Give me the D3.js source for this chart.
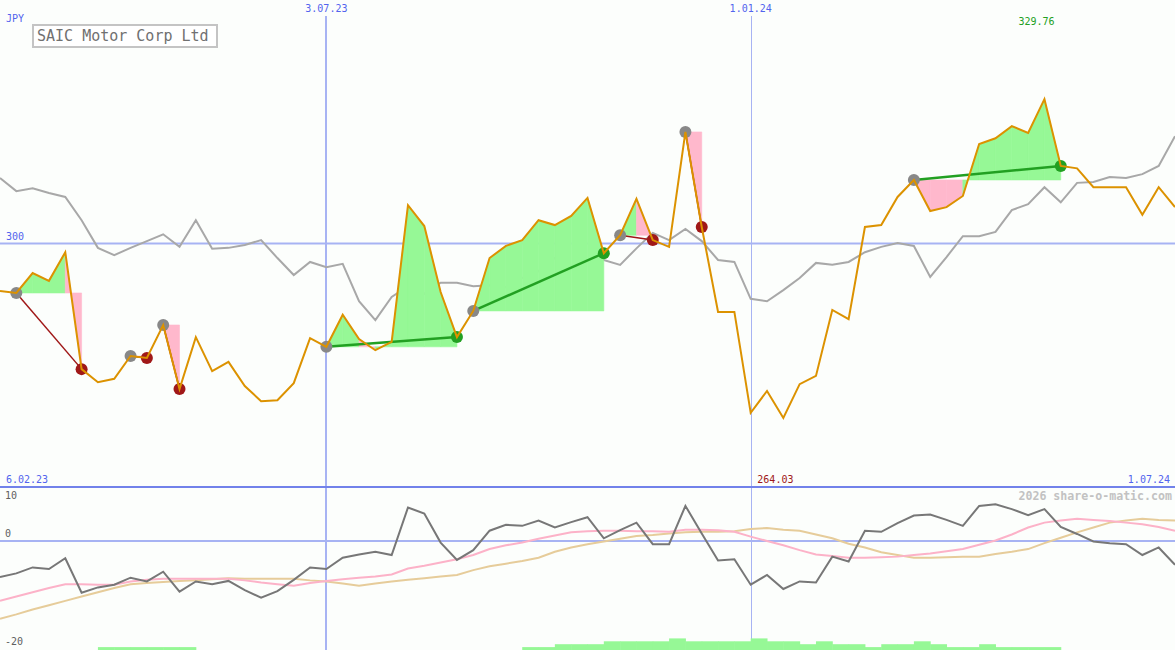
<!DOCTYPE html>
<html lang="en">
  <head>
    <meta charset="utf-8"/>
    <script src="https://d3js.org/d3.v7.min.js"></script>
    <style>
      body { margin: 0; background: #fcfefc; }
      svg { display: block; }
      text { font-family: "DejaVu Sans Mono", monospace; font-size: 10px; }
    </style>
  </head>
  <body>
    <svg id="chart" width="1175" height="650"></svg>
  </body>
  <script>
    // weekly closes (JPY) and comparison index, scaled onto the price axis
    const price = [290.2, 289.8, 293.9, 292.3, 298.2, 274.1, 271.4, 272.1, 276.8, 276.4,
      283.2, 270.0, 280.7, 273.7, 275.6, 270.6, 267.5, 267.7, 271.2, 280.5,
      278.7, 285.3, 280.3, 278.0, 279.7, 307.9, 303.6, 290.0, 280.7, 286.1,
      297.0, 299.5, 300.7, 304.8, 303.8, 305.7, 309.4, 298.0, 301.7, 309.2,
      300.7, 299.3, 323.0, 303.4, 285.9, 285.9, 265.1, 269.6, 264.03, 271.0,
      272.7, 286.3, 284.4, 303.4, 303.8, 309.6, 313.1, 306.7, 307.5, 309.8,
      320.5, 321.7, 324.2, 322.8, 329.76, 316.0, 315.5, 311.6, 311.6, 311.6,
      305.9, 311.6, 307.5];
    const index = [313.5, 310.8, 311.4, 310.4, 309.6, 304.8, 299.1, 297.6, 299.1, 300.5,
      301.9, 299.3, 304.8, 298.9, 299.1, 299.7, 300.7, 297.0, 293.5, 296.2,
      295.1, 295.8, 288.1, 284.2, 289.0, 291.2, 289.6, 291.9, 291.9, 291.2,
      291.4, 291.0, 292.9, 294.3, 297.0, 295.4, 296.6, 296.6, 295.6, 299.0,
      302.2, 300.7, 303.0, 300.5, 296.6, 296.2, 288.6, 288.1, 290.4, 292.9,
      296.0, 295.6, 296.2, 298.2, 299.3, 300.1, 299.5, 293.1, 297.2, 301.5,
      301.5, 302.4, 306.9, 308.1, 311.6, 308.5, 312.5, 312.7, 313.7, 313.5,
      314.3, 316.0, 322.1];

    // lower panel
    const momentum = [-6.7, -6.0, -4.9, -5.2, -3.2, -9.6, -8.6, -8.1, -6.8, -7.5,
      -5.7, -9.4, -7.5, -8.0, -7.4, -9.1, -10.5, -9.3, -7.2, -4.9,
      -5.2, -3.1, -2.5, -2.0, -2.6, 6.2, 5.1, -0.3, -3.5, -1.7,
      1.9, 3.0, 2.8, 3.8, 2.5, 3.5, 4.4, 0.5, 2.0, 3.4,
      -0.6, -0.6, 6.5, 1.4, -3.6, -3.4, -8.1, -6.3, -8.9, -7.5,
      -7.7, -2.9, -3.8, 1.9, 1.7, 3.3, 4.7, 4.9, 3.9, 2.8,
      6.5, 6.8, 5.9, 4.8, 5.9, 2.6, 1.3, -0.1, -0.4, -0.6,
      -2.6, -1.2, -4.4];
    const avgFast = [-11.1, -10.3, -9.5, -8.7, -8.0, -8.0, -8.1, -8.1, -7.5, -7.2,
      -7.0, -7.0, -7.0, -7.0, -7.0, -7.3, -7.7, -8.0, -8.3, -7.8,
      -7.4, -7.1, -6.8, -6.6, -6.2, -5.1, -4.6, -4.0, -3.4, -2.6,
      -1.5, -0.8, -0.3, 0.4, 1.0, 1.6, 1.8, 1.9, 1.9, 1.8,
      1.8, 1.7, 2.1, 2.1, 2.0, 1.7, 0.8, 0.0, -0.8, -1.7,
      -2.5, -2.8, -3.1, -3.1, -3.0, -2.9, -2.6, -2.3, -1.9, -1.5,
      -0.7, 0.1, 1.2, 2.5, 3.4, 3.8, 4.1, 3.9, 3.7, 3.4,
      3.1, 2.6, 1.9];
    const avgSlow = [-14.4, -13.6, -12.7, -11.9, -11.1, -10.3, -9.5, -8.7, -8.0, -7.8,
      -7.6, -7.4, -7.3, -7.1, -6.9, -7.0, -7.0, -7.0, -7.0, -7.3,
      -7.5, -7.9, -8.3, -7.9, -7.5, -7.2, -6.9, -6.6, -6.3, -5.4,
      -4.7, -4.2, -3.7, -3.1, -2.0, -1.2, -0.6, -0.1, 0.4, 0.9,
      1.1, 1.4, 1.6, 1.7, 1.7, 1.8, 2.2, 2.4, 2.1, 1.9,
      1.2, 0.5, -0.5, -1.2, -2.1, -2.6, -3.1, -3.1, -3.0, -2.9,
      -2.9, -2.4, -2.0, -1.5, -0.4, 0.6, 1.6, 2.5, 3.4, 3.8,
      4.1, 3.9, 3.8];
    const volume = [0, 0, 0, 0, 0, 0, 1, 1, 1, 1, 1, 1,
      0, 0, 0, 0, 0, 0, 0, 0, 0, 0, 0, 0, 0, 0, 0, 0, 0, 0, 0, 0,
      1, 1, 2, 2, 2, 3, 3, 3, 3, 4, 3, 3, 3, 3, 4, 3, 3, 2, 3, 2, 2, 1,
      2, 2, 3, 2, 1, 1, 2, 1, 1, 1, 1,
      0, 0, 0, 0, 0, 0, 0, 0];

    // signals: [entry week, exit week]
    const trades = [[1, 5], [8, 9], [10, 11], [20, 28], [29, 37], [38, 40], [42, 43], [56, 65]];

    const dateLines = [new Date(2023, 6, 3), new Date(2024, 0, 1)];
    const dateLabels = ["3.07.23", "1.01.24"];
    const priceLevel = 300;
    const subTicks = [10, 0, -20];

    const width = 1175, height = 650;
    const dates = d3.timeMonday.range(new Date(2023, 1, 13), new Date(2024, 6, 2));
    const x = d3.scaleTime().domain([dates[0], dates[dates.length - 1]]).range([0, width]);
    const y = d3.scaleLinear().domain([249.8, 350.2]).range([487, 0]);
    const y2 = d3.scaleLinear().domain([-20.2, 10]).range([650, 487]);
    const yv = d3.scaleLinear().domain([0, 10]).range([650, 621]);
    const step = x(dates[1]) - x(dates[0]);

    const svg = d3.select("#chart");
    svg.append("rect").attr("width", width).attr("height", height).attr("fill", "#fcfefc");

    const blue = "#5264ee", gridc = "#a7b3f3";

    // grid lines
    svg.append("line").attr("x1", 0).attr("x2", width)
      .attr("y1", y(priceLevel)).attr("y2", y(priceLevel))
      .attr("stroke", gridc).attr("stroke-width", 2);
    svg.append("line").attr("x1", 0).attr("x2", width)
      .attr("y1", y2(0)).attr("y2", y2(0))
      .attr("stroke", gridc).attr("stroke-width", 2);
    dateLines.forEach(function(d, i) {
      svg.append("line")
        .attr("x1", Math.round(x(d)) + (i ? 0.5 : 0)).attr("x2", Math.round(x(d)) + (i ? 0.5 : 0))
        .attr("y1", 16).attr("y2", height)
        .attr("stroke", gridc).attr("stroke-width", i ? 1 : 2);
      svg.append("text").attr("x", x(d)).attr("y", 12)
        .attr("text-anchor", "middle").attr("fill", blue).text(dateLabels[i]);
    });
    svg.append("line").attr("x1", 0).attr("x2", width).attr("y1", 487).attr("y2", 487)
      .attr("stroke", "#7282ea").attr("stroke-width", 2);

    // comparison index
    const line = d3.line().x(function(d, i) { return x(dates[i]); });
    svg.append("path").datum(index)
      .attr("d", line.y(function(d) { return y(d); }))
      .attr("fill", "none").attr("stroke", "#a8a8a8").attr("stroke-width", 2);

    // gain / loss areas per segment of each trade
    const area = d3.area().x(function(d) { return x(dates[d.i]); })
      .y1(function(d) { return y(price[d.i]); });
    trades.forEach(function(t) {
      const base = price[t[0]];
      for (let k = t[0]; k < t[1]; k++) {
        const c = price[k + 1] >= base ? "#96f896" : "#ffb8cc";
        svg.append("path")
          .datum([{ i: k }, { i: k + 1 }])
          .attr("d", area.y0(y(base)))
          .attr("fill", c).attr("stroke", c).attr("stroke-width", 0.6);
      }
    });

    // trade lines and markers
    trades.forEach(function(t) {
      const win = price[t[1]] > price[t[0]];
      svg.append("line")
        .attr("x1", x(dates[t[0]])).attr("y1", y(price[t[0]]))
        .attr("x2", x(dates[t[1]])).attr("y2", y(price[t[1]]))
        .attr("stroke", win ? "#22a022" : "#a01818").attr("stroke-width", win ? 2.5 : 1.5);
      svg.append("circle").attr("cx", x(dates[t[0]])).attr("cy", y(price[t[0]]))
        .attr("r", 6).attr("fill", "#888888");
      svg.append("circle").attr("cx", x(dates[t[1]])).attr("cy", y(price[t[1]]))
        .attr("r", 6).attr("fill", win ? "#22a022" : "#a01818");
    });

    // price
    svg.append("path").datum(price)
      .attr("d", line.y(function(d) { return y(d); }))
      .attr("fill", "none").attr("stroke", "#dc9200").attr("stroke-width", 2);

    // lower panel
    svg.selectAll(".vol").data(volume).enter().append("rect")
      .attr("x", function(d, i) { return x(dates[i]); })
      .attr("width", step + 0.5)
      .attr("y", function(d) { return yv(d); })
      .attr("height", function(d) { return yv(0) - yv(d); })
      .attr("fill", "#96f896");
    svg.append("path").datum(avgSlow)
      .attr("d", line.y(function(d) { return y2(d); }))
      .attr("fill", "none").attr("stroke", "#e6cc9a").attr("stroke-width", 2);
    svg.append("path").datum(avgFast)
      .attr("d", line.y(function(d) { return y2(d); }))
      .attr("fill", "none").attr("stroke", "#fcb2c8").attr("stroke-width", 2);
    svg.append("path").datum(momentum)
      .attr("d", line.y(function(d) { return y2(d); }))
      .attr("fill", "none").attr("stroke", "#777777").attr("stroke-width", 2);

    // labels
    svg.append("text").attr("x", 6).attr("y", 22).attr("fill", blue).text("JPY");
    svg.append("text").attr("x", 6).attr("y", y(priceLevel) - 4).attr("fill", blue).text(priceLevel);
    svg.append("text").attr("x", 6).attr("y", 483).attr("fill", blue).text("6.02.23");
    svg.append("text").attr("x", 1170).attr("y", 483).attr("text-anchor", "end")
      .attr("fill", blue).text("1.07.24");

    const hi = d3.maxIndex(price), lo = d3.minIndex(price);
    svg.append("text").attr("x", x(dates[hi]) - 8).attr("y", 25).attr("text-anchor", "middle")
      .attr("fill", "#22a022").text(price[hi].toFixed(2));
    svg.append("text").attr("x", x(dates[lo]) - 26).attr("y", 483)
      .attr("fill", "#a01818").text(price[lo].toFixed(2));

    subTicks.forEach(function(v) {
      const ty = v === 10 ? 499 : (v === 0 ? y2(0) - 4 : 645);
      svg.append("text").attr("x", 5).attr("y", ty).attr("fill", "#606060").text(v);
    });

    svg.append("text").attr("x", 1172).attr("y", 500).attr("text-anchor", "end")
      .attr("fill", "#c2c2c2").style("font-size", "11.6px").style("font-weight", "bold")
      .text("2026 share-o-matic.com");

    // title box
    svg.append("rect").attr("x", 33).attr("y", 25).attr("width", 184).attr("height", 22)
      .attr("fill", "#ffffff").attr("stroke", "#c4c4c4").attr("stroke-width", 2);
    svg.append("text").attr("x", 37).attr("y", 41).attr("fill", "#707070")
      .style("font-size", "15px").text("SAIC Motor Corp Ltd");
  </script>
</html>
